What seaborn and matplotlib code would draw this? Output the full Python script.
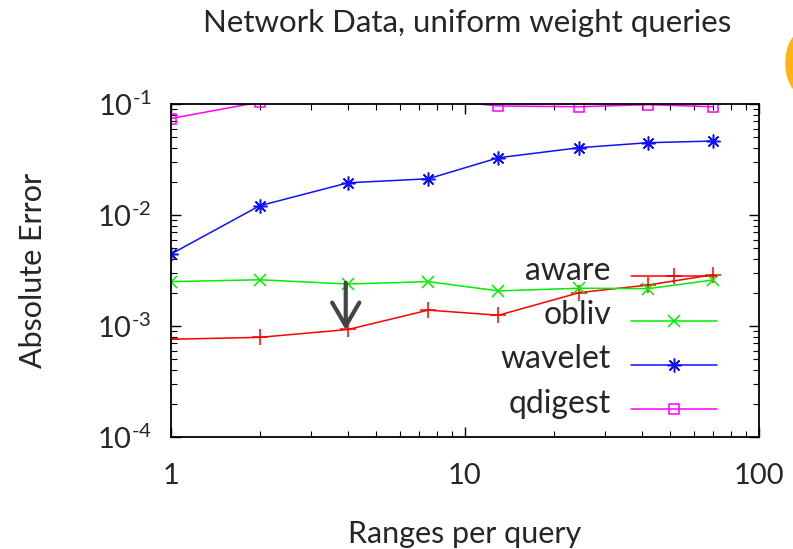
import numpy as np
import pandas as pd
import matplotlib
matplotlib.use('Agg')
import matplotlib.pyplot as plt
from matplotlib.patches import Ellipse
from matplotlib.legend_handler import HandlerLine2D
from matplotlib.ticker import FixedLocator, LogLocator, NullFormatter, FuncFormatter
import seaborn as sns

# values
ranges = [1, 2, 4, 7.5, 13, 24.5, 42, 70]
aware = [7.6e-4, 7.9e-4, 9.3e-4, 1.39e-3, 1.25e-3, 2.0e-3, 2.34e-3, 2.9e-3]
obliv = [2.51e-3, 2.61e-3, 2.39e-3, 2.51e-3, 2.07e-3, 2.19e-3, 2.17e-3, 2.6e-3]
wavelet = [4.45e-3, 1.21e-2, 1.95e-2, 2.12e-2, 3.28e-2, 4.04e-2, 4.48e-2, 4.64e-2]
qdigest = [7.4e-2, 0.104, 0.11, 0.111, 0.096, 0.0945, 0.0986, 0.0945]

series = ['aware', 'obliv', 'wavelet', 'qdigest']
colors = ['#ff0000', '#00ee00', '#1010ff', '#ff00ff']
markers = ['+', 'x', (8, 2, 0), 's']
msizes = [12, 8, 10, 7]


class LowHandler(HandlerLine2D):
    # gnuplot puts the key sample a bit under the text
    def create_artists(self, legend, orig_handle, xdescent, ydescent,
                       width, height, fontsize, trans):
        return super().create_artists(legend, orig_handle, xdescent,
                                      ydescent + 0.5 * fontsize, width, height,
                                      fontsize, trans)


sns.set_style('ticks')
plt.rcParams['font.family'] = ['Lato', 'DejaVu Sans']
plt.rcParams['mathtext.fontset'] = 'custom'
plt.rcParams['mathtext.rm'] = 'Lato'
plt.rcParams['mathtext.it'] = 'Lato:italic'
plt.rcParams['mathtext.bf'] = 'Lato:bold'

fig = plt.figure(figsize=(7.93, 5.49), dpi=100)
ax = fig.add_axes([171 / 793, 1 - 437 / 549, 588 / 793, 333 / 549])

data = {'aware': aware, 'obliv': obliv, 'wavelet': wavelet, 'qdigest': qdigest}
for name, c, m, ms in zip(series, colors, markers, msizes):
    sns.lineplot(x=ranges, y=data[name], ax=ax, color=c, marker=m, markersize=ms,
                 markeredgecolor=c, markerfacecolor='none', markeredgewidth=1.1,
                 linewidth=1.1, label=name, sort=False)

ax.set_xscale('log')
ax.set_yscale('log')
ax.set_xlim(1, 100)
ax.set_ylim(1e-4, 1e-1)

ax.xaxis.set_major_locator(FixedLocator([1, 10, 100]))
ax.xaxis.set_major_formatter(FuncFormatter(lambda v, p: '%d' % round(v)))
ax.xaxis.set_minor_locator(LogLocator(base=10, subs=np.arange(2, 10)))
ax.xaxis.set_minor_formatter(NullFormatter())
ax.yaxis.set_major_locator(FixedLocator([1e-4, 1e-3, 1e-2, 1e-1]))
ax.yaxis.set_major_formatter(FuncFormatter(
    lambda v, p: r'$10^{\text{-%d}}$' % round(-np.log10(v))))
ax.yaxis.set_minor_locator(LogLocator(base=10, subs=np.arange(2, 10)))
ax.yaxis.set_minor_formatter(NullFormatter())

ax.tick_params(which='both', direction='in', top=True, right=True, color='black')
ax.tick_params(which='major', length=7, width=1.0, labelsize=21)
ax.tick_params(which='minor', length=4, width=0.8)
ax.tick_params(axis='x', which='major', pad=19)
ax.tick_params(axis='y', which='major', pad=14)
for s in ax.spines.values():
    s.set_linewidth(1.3)
    s.set_color('black')

ax.set_xlabel('Ranges per query', fontsize=22, labelpad=22)
ax.set_ylabel('Absolute Error', fontsize=22, labelpad=36)
fig.text(467 / 793, 1 - 23 / 549, 'Network Data, uniform weight queries',
         fontsize=22.5, ha='center', va='center')

# arrow between obliv and aware at 4 ranges
ax.annotate('', xy=(3.93, 9.2e-4), xytext=(3.93, 2.45e-3),
            arrowprops=dict(arrowstyle='->,head_length=0.6,head_width=0.35',
                            color='#444444', lw=3, mutation_scale=28,
                            shrinkA=0, shrinkB=0))

handles, labels = ax.get_legend_handles_labels()
leg = ax.legend(handles, labels, loc='lower right',
                bbox_to_anchor=((717 - 171) / 588, 0.055),
                frameon=False, markerfirst=False, fontsize=23, handlelength=2.7,
                handletextpad=0.62, labelspacing=0.45, borderaxespad=0,
                borderpad=0, numpoints=1,
                handler_map={h: LowHandler() for h in handles})

# orange blob at the right edge
fig.patches.append(Ellipse((803 / 793, 1 - 63 / 549), 34 / 793, 62 / 549,
                           transform=fig.transFigure, color='#fdb515', zorder=5))

fig.savefig('out.png', dpi=100)
